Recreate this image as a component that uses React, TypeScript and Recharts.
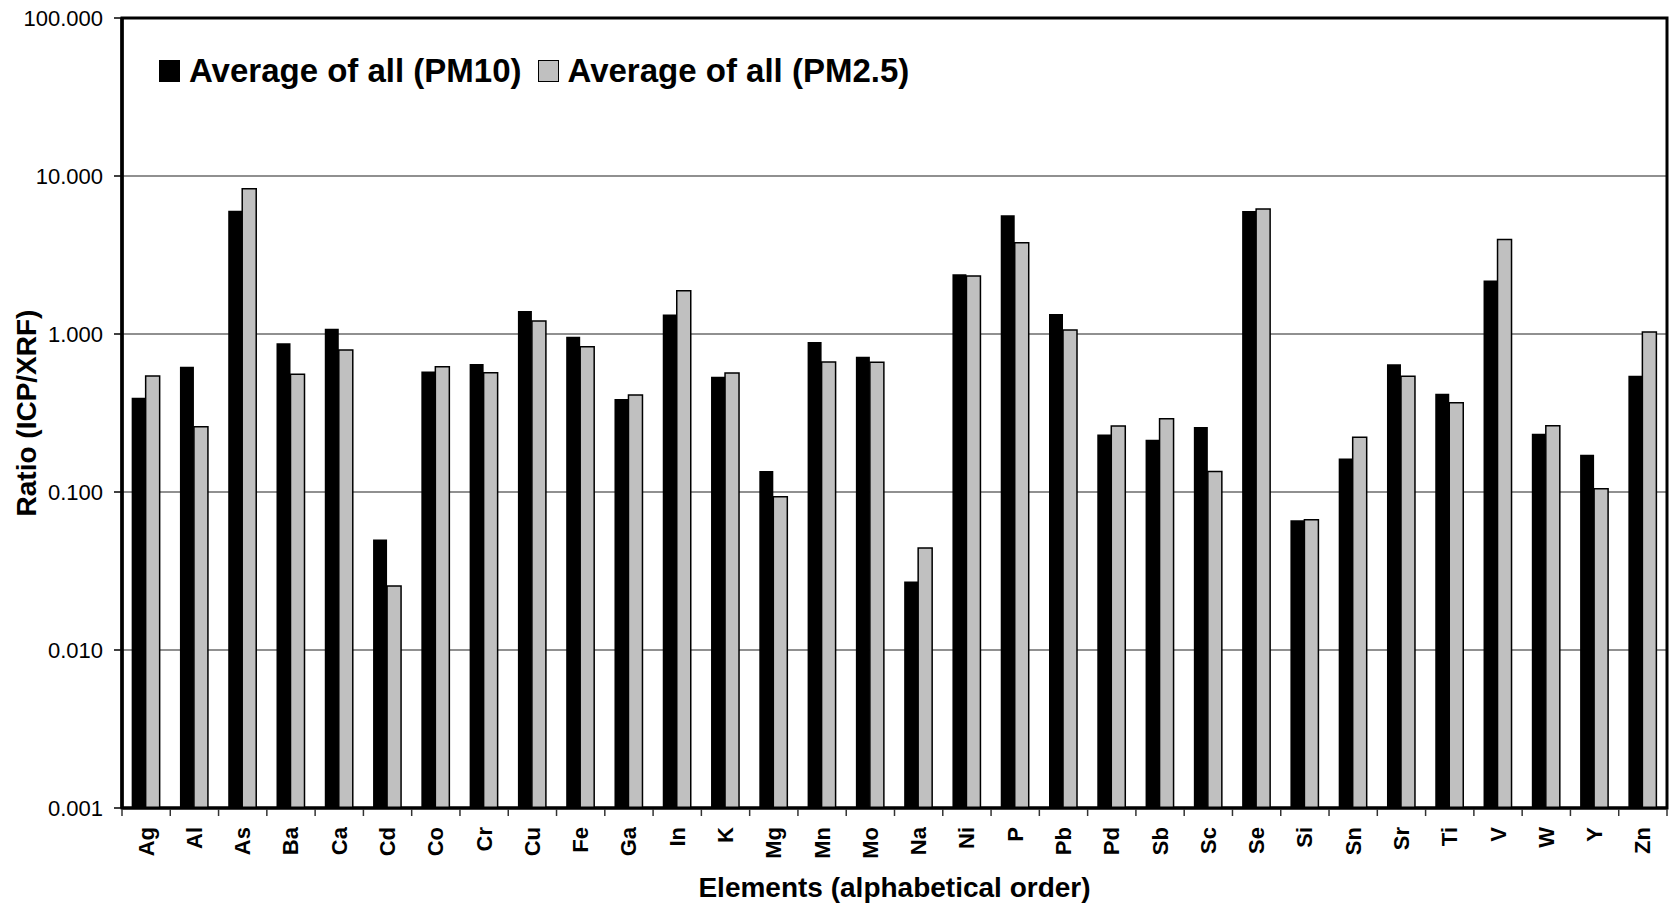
import { BarChart, Bar, XAxis, YAxis, CartesianGrid, Legend, ReferenceArea, Label } from 'recharts'

const elements = [
  'Ag', 'Al', 'As', 'Ba', 'Ca', 'Cd', 'Co', 'Cr', 'Cu', 'Fe', 'Ga', 'In', 'K', 'Mg', 'Mn', 'Mo',
  'Na', 'Ni', 'P', 'Pb', 'Pd', 'Sb', 'Sc', 'Se', 'Si', 'Sn', 'Sr', 'Ti', 'V', 'W', 'Y', 'Zn',
]

// ICP / XRF ratio, averaged over all samples
const pm10 = [
  0.395, 0.621, 6.03, 0.873, 1.08, 0.05, 0.578, 0.646, 1.4, 0.962, 0.388, 1.33, 0.537, 0.136, 0.89, 0.719,
  0.0271, 2.39, 5.64, 1.34, 0.231, 0.214, 0.258, 6.0, 0.0662, 0.163, 0.643, 0.419, 2.18, 0.234, 0.172, 0.545,
]
const pm25 = [
  0.542, 0.259, 8.31, 0.556, 0.792, 0.0254, 0.621, 0.569, 1.21, 0.831, 0.411, 1.88, 0.567, 0.0934, 0.665, 0.662,
  0.0442, 2.33, 3.78, 1.06, 0.262, 0.291, 0.135, 6.18, 0.0668, 0.222, 0.54, 0.367, 3.97, 0.263, 0.105, 1.03,
]

const yTicks = [0.001, 0.01, 0.1, 1, 10, 100]

const data = elements.map((el, i) => ({ el, pm10: pm10[i], pm25: pm25[i] }))

const FONT = '"Liberation Sans", Arial, sans-serif'
const W = 1669
const H = 906
const MARGIN = { top: 18, right: 2, left: 0, bottom: 0 }
const Y_AXIS_W = 122
const X_AXIS_H = 98
const HALF_BAND = (W - MARGIN.left - MARGIN.right - Y_AXIS_W) / elements.length / 2

const series = [
  { key: 'pm10', name: 'Average of all (PM10)', fill: '#000000', stroke: '#000000' },
  { key: 'pm25', name: 'Average of all (PM2.5)', fill: '#C0C0C0', stroke: '#000000' },
]

function ElementTick(props: any) {
  const { x, y, payload, index } = props
  return (
    <g>
      <line x1={x - HALF_BAND} y1={y + 1} x2={x - HALF_BAND} y2={y + 8} stroke="#333" strokeWidth={1.5} />
      {index === elements.length - 1 && (
        <line x1={x + HALF_BAND} y1={y + 1} x2={x + HALF_BAND} y2={y + 8} stroke="#333" strokeWidth={1.5} />
      )}
      <text
        transform={`translate(${x},${y + 19}) rotate(-90)`}
        textAnchor="end"
        dominantBaseline="central"
        fontFamily={FONT}
        fontWeight="bold"
        fontSize={22}
        fill="#000"
      >
        {payload.value}
      </text>
    </g>
  )
}

function LegendBox(props: any) {
  const items = props.payload || []
  return (
    <div style={{ display: 'flex', alignItems: 'center', fontFamily: FONT, fontWeight: 'bold', fontSize: 33, lineHeight: '33px', whiteSpace: 'nowrap' }}>
      {items.map((item: any) => {
        const s = series.find((d) => d.name === item.value) || series[0]
        return (
          <div key={item.value} style={{ display: 'flex', alignItems: 'center', marginRight: 16 }}>
            <span
              style={{
                display: 'inline-block',
                width: 21,
                height: 22,
                boxSizing: 'border-box',
                background: s.fill,
                border: `1.5px solid ${s.stroke}`,
                marginRight: 9,
              }}
            />
            <span style={{ color: '#000' }}>{item.value}</span>
          </div>
        )
      })}
    </div>
  )
}

export default function App() {
  return (
    <div style={{ position: 'absolute', left: 0, top: 0, width: W, height: H, background: '#fff' }}>
      <BarChart width={W} height={H} data={data} margin={MARGIN} barCategoryGap="20%" barGap={0}>
        <CartesianGrid vertical={false} stroke="#222" strokeWidth={1.2} />
        <XAxis
          dataKey="el"
          interval={0}
          height={X_AXIS_H}
          tickSize={0}
          tickMargin={0}
          tick={<ElementTick />}
          axisLine={{ stroke: '#000', strokeWidth: 3 }}
          tickLine={false}
        >
          <Label
            content={({ viewBox }: any) => (
              <text
                x={viewBox.x + viewBox.width / 2}
                y={viewBox.y + 89}
                textAnchor="middle"
                fontFamily={FONT}
                fontWeight="bold"
                fontSize={28}
                fill="#000"
              >
                Elements (alphabetical order)
              </text>
            )}
          />
        </XAxis>
        <YAxis
          type="number"
          scale="log"
          domain={[0.001, 100]}
          ticks={yTicks}
          allowDataOverflow
          width={Y_AXIS_W}
          tickFormatter={(v: number) => v.toFixed(3)}
          tick={{ fontFamily: FONT, fontSize: 22, fill: '#000' }}
          tickSize={8}
          tickMargin={11}
          axisLine={{ stroke: '#000', strokeWidth: 3.5 }}
          tickLine={{ stroke: '#000', strokeWidth: 1.5 }}
        >
          <Label
            content={({ viewBox }: any) => {
              const cx = viewBox.x + 36
              const cy = viewBox.y + viewBox.height / 2
              return (
                <text
                  transform={`translate(${cx},${cy}) rotate(-90)`}
                  textAnchor="middle"
                  fontFamily={FONT}
                  fontWeight="bold"
                  fontSize={28}
                  fill="#000"
                >
                  Ratio (ICP/XRF)
                </text>
              )
            }}
          />
        </YAxis>
        <ReferenceArea y1={0.001} y2={100} fill="none" stroke="#000" strokeWidth={3} />
        <Legend
          layout="horizontal"
          verticalAlign="middle"
          align="center"
          content={<LegendBox />}
          wrapperStyle={{ top: 54, left: 159, width: 'auto', height: 'auto' }}
        />
        {series.map((s) => (
          <Bar
            key={s.key}
            dataKey={s.key}
            name={s.name}
            fill={s.fill}
            stroke={s.stroke}
            strokeWidth={s.key === 'pm25' ? 1.5 : 0}
            isAnimationActive={false}
          />
        ))}
      </BarChart>
    </div>
  )
}
